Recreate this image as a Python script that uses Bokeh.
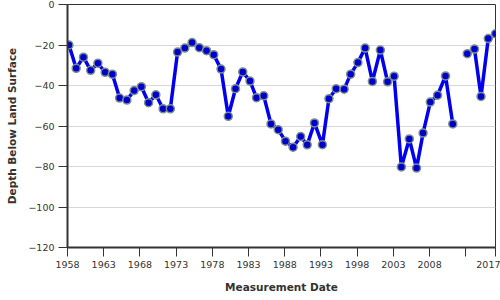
import numpy as np
from bokeh.plotting import figure
from bokeh.models import FixedTicker, Range1d, ColumnDataSource
from bokeh.embed import file_html
from bokeh.resources import INLINE

years = [1958.2, 1959.2, 1960.2, 1961.2, 1962.2, 1963.2, 1964.2, 1965.2, 1966.2, 1967.2,
         1968.2, 1969.2, 1970.2, 1971.2, 1972.2, 1973.2, 1974.2, 1975.2, 1976.2, 1977.2,
         1978.2, 1979.2, 1980.2, 1981.2, 1982.2, 1983.2, 1984.1, 1985.1, 1986.1, 1987.1,
         1988.1, 1989.15, 1990.2, 1991.1, 1992.1, 1993.2, 1994.1, 1995.1, 1996.2, 1997.1,
         1998.1, 1999.1, 2000.1, 2001.2, 2002.2, 2003.1, 2004.1, 2005.2, 2006.2, 2007.1,
         2008.1, 2009.1, 2010.2, 2011.2, 2012.2, 2013.2, 2014.2, 2015.1, 2016.1, 2017.1]
depth = [-20.0, -31.5, -26.0, -32.5, -29.0, -33.5, -34.4, -46.2, -47.2, -42.5,
         -40.6, -48.5, -44.6, -51.5, -51.5, -23.5, -21.5, -18.8, -21.3, -22.8,
         -24.8, -31.9, -55.2, -41.6, -33.3, -37.8, -46.0, -45.1, -59.0, -61.8,
         -67.5, -70.5, -65.2, -69.3, -58.5, -69.2, -46.5, -41.6, -41.8, -34.4,
         -28.7, -21.5, -38.0, -22.5, -38.2, -35.4, -80.2, -66.4, -80.8, -63.5,
         -48.2, -44.8, -35.3, -59.0, np.nan, -24.3, -22.0, -45.4, -16.8, -14.5]

x_ticks = [1958, 1963, 1968, 1973, 1978, 1983, 1988, 1993, 1998, 2003, 2008, 2013, 2017.1]
x_tick_labels = ["1958", "1963", "1968", "1973", "1978", "1983", "1988", "1993", "1998",
                 "2003", "2008", "", "2017"]
y_ticks = [0, -20, -40, -60, -80, -100, -120]

x_title = "Measurement Date"
y_title = "Depth Below Land Surface"

src = ColumnDataSource(dict(x=years, y=depth))

p = figure(width=500, height=300, output_backend="svg", toolbar_location=None,
           x_range=Range1d(1958.0, 2017.1), y_range=Range1d(-120, 0),
           min_border_left=67, min_border_right=5, min_border_top=4, min_border_bottom=53)
p.background_fill_color = "white"
p.border_fill_color = "white"
p.outline_line_color = "#333333"
p.outline_line_width = 1

p.line("x", "y", source=src, line_color="#0000ee", line_width=3.5)
p.scatter("x", "y", source=src, size=8, fill_color="#0000cc", line_color="#7d8f8a", line_width=1.5)

p.xaxis.ticker = FixedTicker(ticks=x_ticks)
p.xaxis.major_label_overrides = {t: l for t, l in zip(x_ticks, x_tick_labels)}
p.yaxis.ticker = FixedTicker(ticks=y_ticks)

for ax in (p.xaxis, p.yaxis):
    ax.axis_line_color = "#333333"
    ax.axis_line_width = 2
    ax.major_tick_line_color = "#333333"
    ax.major_tick_line_width = 1
    ax.major_tick_out = 9
    ax.major_tick_in = 0
    ax.minor_tick_line_color = None
    ax.major_label_text_font = "DejaVu Sans"
    ax.major_label_text_font_size = "9.5px"
    ax.major_label_text_color = "#333333"
    ax.major_label_standoff = 4
    ax.axis_label_text_font = "DejaVu Sans"
    ax.axis_label_text_font_style = "bold"
    ax.axis_label_text_font_size = "10.5px"
    ax.axis_label_text_color = "#333333"

p.xaxis.axis_label = x_title
p.yaxis.axis_label = y_title
p.xaxis.axis_label_standoff = 10
p.yaxis.axis_label_standoff = 7

p.xgrid.grid_line_color = None
p.ygrid.ticker = FixedTicker(ticks=y_ticks)
p.ygrid.grid_line_color = "#d8d8d8"
p.ygrid.grid_line_width = 1

open("out.html", "w").write(file_html(p, INLINE))
